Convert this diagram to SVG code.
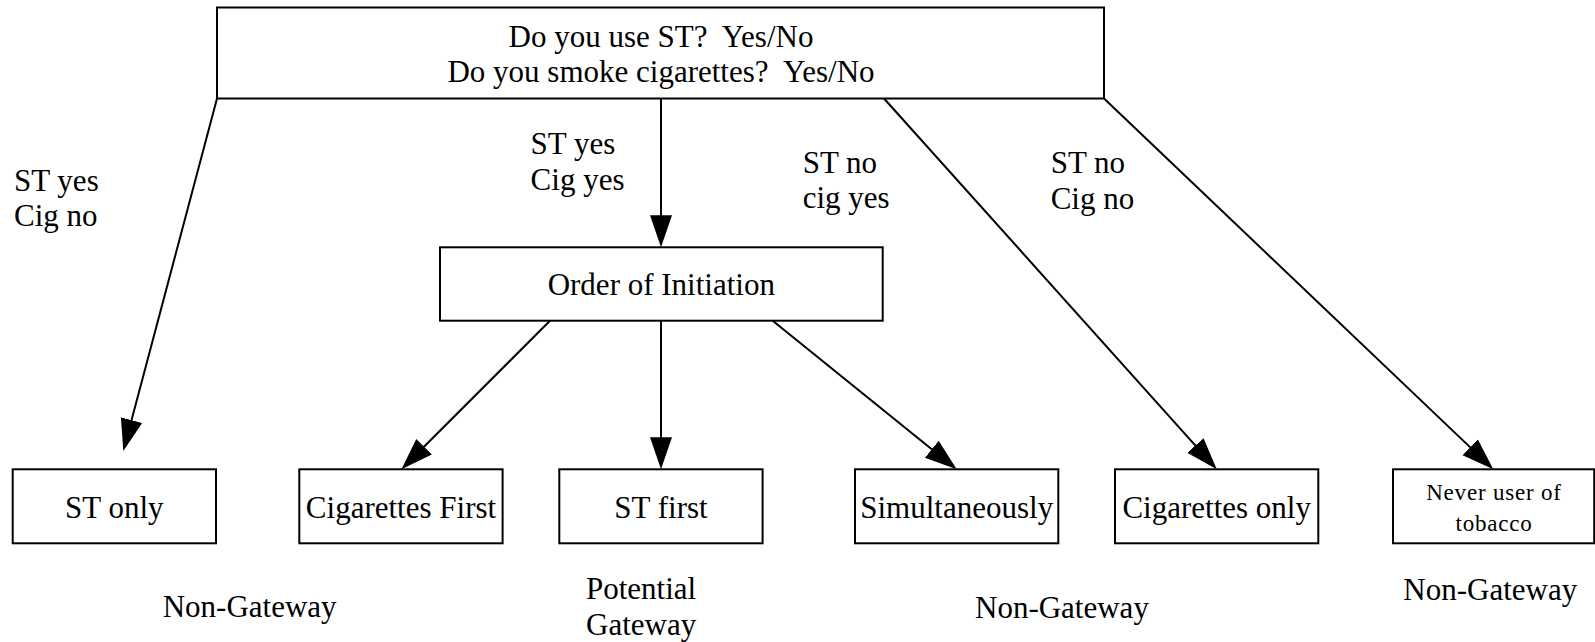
<svg xmlns="http://www.w3.org/2000/svg" width="1595" height="642" viewBox="0 0 1595 642">
<style>
.box{fill:#fff;stroke:#000;stroke-width:2}
.t{font-family:"Liberation Serif","Times New Roman",serif;font-size:31px;fill:#000}
.c{text-anchor:middle}
.sm{font-size:23px;letter-spacing:0.8px}
.edge{fill:none;stroke:#000;stroke-width:2}
</style>
<defs>
<marker id="arr" markerUnits="userSpaceOnUse" markerWidth="34" markerHeight="24" viewBox="0 -12 34 24" refX="27" refY="0" orient="auto">
<polygon points="0,-11 32,0 0,11" fill="#000"/>
</marker>
</defs>
<rect width="1595" height="642" fill="#fff"/>
<g id="connectors">
<line class="edge" x1="217" y1="98.5" x2="124.6" y2="446.2" marker-end="url(#arr)"/>
<line class="edge" x1="661" y1="98.5" x2="661" y2="242.3" marker-end="url(#arr)"/>
<line class="edge" x1="884" y1="98.5" x2="1213.4" y2="465.6" marker-end="url(#arr)"/>
<line class="edge" x1="1104" y1="98.5" x2="1489.7" y2="465.9" marker-end="url(#arr)"/>
<line class="edge" x1="550" y1="320.7" x2="405" y2="465.8" marker-end="url(#arr)"/>
<line class="edge" x1="661" y1="320.7" x2="661" y2="464.3" marker-end="url(#arr)"/>
<line class="edge" x1="772.7" y1="320.7" x2="952.8" y2="466.2" marker-end="url(#arr)"/>
</g>
<g id="question">
<rect class="box" x="217" y="7.5" width="887" height="91"/>
<text class="t c" x="661" y="47" xml:space="preserve">Do you use ST?  Yes/No</text>
<text class="t c" x="661" y="82" xml:space="preserve">Do you smoke cigarettes?  Yes/No</text>
</g>
<g id="order">
<rect class="box" x="440" y="247.3" width="442.7" height="73.4"/>
<text class="t c" x="661.3" y="295">Order of Initiation</text>
</g>
<g id="st-only">
<rect class="box" x="12.7" y="469.3" width="203.3" height="74"/>
<text class="t c" x="114.3" y="518">ST only</text>
</g>
<g id="cig-first">
<rect class="box" x="299.3" y="469.3" width="203.3" height="74"/>
<text class="t c" x="401" y="518">Cigarettes First</text>
</g>
<g id="st-first">
<rect class="box" x="559.3" y="469.3" width="203.3" height="74"/>
<text class="t c" x="661" y="518">ST first</text>
</g>
<g id="simultaneously">
<rect class="box" x="855" y="469.3" width="203.3" height="74"/>
<text class="t c" x="956.7" y="518">Simultaneously</text>
</g>
<g id="cig-only">
<rect class="box" x="1115" y="469.3" width="203.3" height="74"/>
<text class="t c" x="1216.7" y="518">Cigarettes only</text>
</g>
<g id="never">
<rect class="box" x="1393" y="469.3" width="201.2" height="74"/>
<text class="t c sm" x="1494" y="500">Never user of</text>
<text class="t c sm" x="1494" y="530.7">tobacco</text>
</g>
<g id="labels">
<text class="t" x="14" y="191">ST yes</text>
<text class="t" x="14" y="226">Cig no</text>
<text class="t" x="530.6" y="154.3">ST yes</text>
<text class="t" x="530.6" y="190">Cig yes</text>
<text class="t" x="802.7" y="173.3">ST no</text>
<text class="t" x="802.7" y="208.3">cig yes</text>
<text class="t" x="1050.7" y="173.3">ST no</text>
<text class="t" x="1050.7" y="209">Cig no</text>
<text class="t" x="162.7" y="616.7">Non-Gateway</text>
<text class="t" x="586" y="599.3">Potential</text>
<text class="t" x="586" y="635">Gateway</text>
<text class="t" x="975" y="618.3">Non-Gateway</text>
<text class="t" x="1403.3" y="600">Non-Gateway</text>
</g>
</svg>
